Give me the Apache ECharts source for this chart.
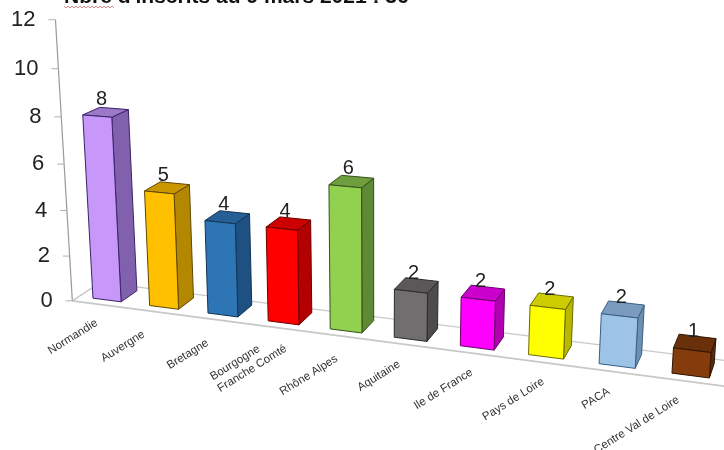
<!DOCTYPE html>
<html>
<head>
<meta charset="utf-8">
<style>html,body{margin:0;padding:0;background:#fff}#c{width:724px;height:450px}</style>
<script src="https://cdn.jsdelivr.net/npm/echarts@6/dist/echarts.min.js"></script>
</head>
<body>
<div id="c"></div>
<script>
// ---- data ----
var categories = ['Normandie','Auvergne','Bretagne','Bourgogne\nFranche Comté','Rhône Alpes','Aquitaine','Ile de France','Pays de Loire','PACA','Centre Val de Loire'];
var values = [8,5,4,4,6,2,2,2,2,1];
var yTicks = [0,2,4,6,8,10,12];
var titleText = "Nbre d'inscrits au 9 mars 2021 : 36";

// ---- style ----
var faceColors = ['#C797FA','#FFC000','#2E75B6','#FF0000','#92D050','#706E6E','#FF00FF','#FFFF00','#9DC3E6','#843C0C'];
var sideColors = ['#8160AE','#B38800','#1F5082','#B30000','#5F8A34','#4D4B4B','#B000B0','#B8B800','#6E8FB0','#5C2A08'];
var topColors  = ['#9B78C8','#C99700','#265E96','#CC0000','#6E9E3D','#5A5858','#CC00CC','#CCCC00','#7B9BBE','#6A3009'];
var edgeColors = ['#3A2466','#5E4700','#123556','#6A0000','#35501A','#2B2A2A','#6A006A','#6A6A00','#3A5F86','#2E1504'];
var labelNudge = [[0,-2],[-10,2],[-5,3],[-62,31],[1,3],[-1,0],[5,-.5],[7.5,0],[2,.5],[-2,-.5]];
var labelAlign = ['right','right','right','left','right','right','right','right','right','right'];

// ---- perspective of the value/category plane ----
var GRID = {left:100, top:40, width:500, height:360};
var YMAX = 12, HALF = 0.25;
function project(i, v, d) {
  var w = 1 - 0.01476*i - 0.0044*v + 0.02*d;
  return [(107 + 54.65*i - 1.65*v + 18.46*d)/w,
          (300 + 2.85*i - 23.5*v - 5.2*d)/w];
}
// grid pixel (from the library's axes) -> model coordinates -> screen
function warp(api, cat, val, di, d) {
  var p = api.coord([cat, val]);
  var band = api.size([1,0])[0];
  var unit = api.size([0,1])[1];
  var i = (p[0] - GRID.left)/band - 0.5 + di;
  var v = (GRID.top + GRID.height - p[1])/unit;
  return project(i, v, d);
}
function poly(pts, fill, stroke, z) {
  return {type:'polygon', z2:z, shape:{points:pts}, style:{fill:fill, stroke:stroke, lineWidth:1, lineJoin:'round'}};
}
function line(a, b, color, width) {
  return {type:'line', shape:{x1:a[0],y1:a[1],x2:b[0],y2:b[1]}, style:{stroke:color, lineWidth:width}};
}

var option = {
  animation:false,
  backgroundColor:'#fff',
  title:{text:titleText, left:64, top:-13, padding:0,
    textStyle:{fontFamily:'Liberation Sans', fontWeight:'bold', fontSize:21, color:'#111'}},
  grid:GRID,
  xAxis:{type:'category', data:categories, show:false},
  yAxis:{type:'value', min:0, max:YMAX, interval:2, show:false},
  graphic:[{type:'polyline', z:5, silent:true,
    shape:{points:(function(){var a=[];for(var x=64;x<=114;x+=2)a.push([x,(x%4===0)?6:8]);return a;})()},
    style:{stroke:'#D88A8A', lineWidth:1, fill:null}}],
  series:[
    // floor and value axis
    {type:'custom', z:1, silent:true, data:[0],
     renderItem:function(p, api){
       var n = categories.length;
       var fa = warp(api,0,0,-0.5,-0.4), fb = warp(api,n-1,0,0.5,-0.4),
           ba = warp(api,0,0,-0.5,1.3), bb = warp(api,n-1,0,0.5,1.3);
       var kids = [
         line(fa,fb,'#C8C8C8',1.6), line(ba,bb,'#C8C8C8',1.4), line(fa,ba,'#C8C8C8',1.4),
         line(warp(api,0,0,-0.5,-0.4), warp(api,0,YMAX,-0.5,-0.4),'#9A9A9A',1.2)
       ];
       yTicks.forEach(function(t){
         var a = warp(api,0,t,-0.5,-0.4), b = warp(api,0,t,-0.62,-0.4);
         kids.push(line(a,[b[0],a[1]],'#B0B0B0',1));
         kids.push({type:'text', style:{text:String(t), x:b[0]-13, y:a[1], align:'right', verticalAlign:'middle',
           fill:'#222', fontFamily:'Liberation Sans', fontSize:22}});
       });
       return {type:'group', children:kids};
     }},
    // bars, data labels and category labels
    {type:'custom', z:2, silent:true,
     data:values.map(function(v,k){return [k,v];}),
     encode:{x:0,y:1},
     renderItem:function(p, api){
       var k = api.value(0), v = api.value(1);
       var fbl = warp(api,k,0,-HALF,0), fbr = warp(api,k,0,HALF,0),
           ftl = warp(api,k,v,-HALF,0), ftr = warp(api,k,v,HALF,0),
           bbr = warp(api,k,0,HALF,1), btr = warp(api,k,v,HALF,1), btl = warp(api,k,v,-HALF,1);
       var labelAt = warp(api,k,v,0,0.25);
       var catAt = warp(api,k,0,0,0);
       var nudge = labelNudge[k];
       return {type:'group', children:[
         poly([fbr,ftr,btr,bbr], sideColors[k], edgeColors[k]),
         poly([ftl,ftr,btr,btl], topColors[k], edgeColors[k]),
         poly([fbl,fbr,ftr,ftl], faceColors[k], edgeColors[k]),
         {type:'text', z2:10, style:{text:String(values[k]), x:labelAt[0], y:labelAt[1]-15, align:'center', verticalAlign:'middle',
           fill:'#222', fontFamily:'Liberation Sans', fontSize:20}},
         {type:'text', z2:10, x:catAt[0]-14+nudge[0], y:catAt[1]+18+nudge[1], rotation:32*Math.PI/180,
          style:{text:categories[k], x:0, y:0, align:labelAlign[k], verticalAlign:'top',
           fill:'#333', fontFamily:'Liberation Sans', fontSize:11.5, lineHeight:14}}
       ]};
     }}
  ]
};
echarts.init(document.getElementById('c'), null, {renderer:'canvas'}).setOption(option);
</script>
</body>
</html>
